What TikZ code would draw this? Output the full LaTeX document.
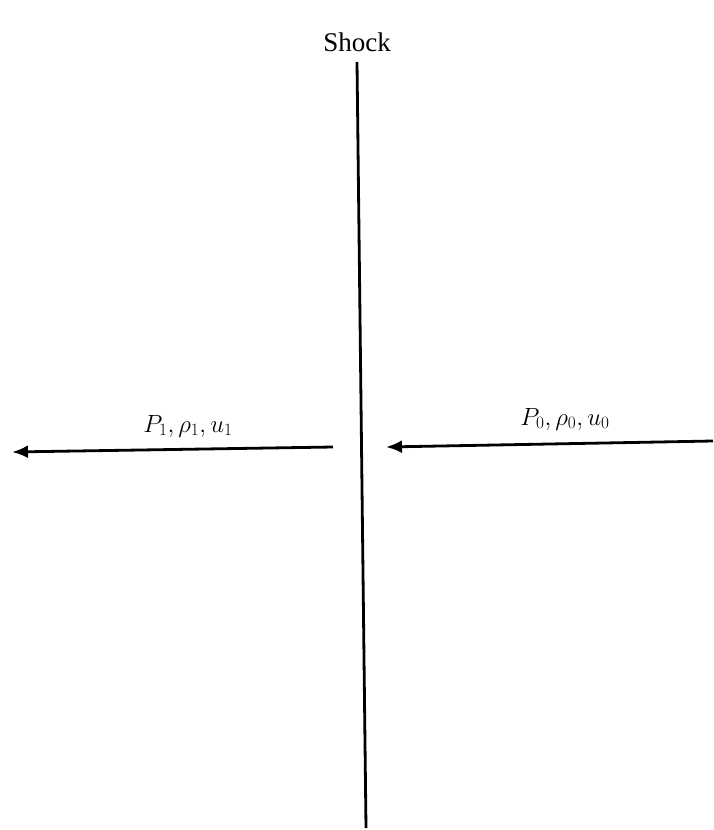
\documentclass[tikz,border=0pt]{standalone}
\usepackage{fontspec}
\setmainfont{Liberation Serif}
\usetikzlibrary{arrows.meta}
\begin{document}
\begin{tikzpicture}[x=1pt,y=-1pt,
  flow/.style={line width=2.8pt,-{Latex[length=16pt,width=13pt]}},
  wall/.style={line width=2.8pt},
  lbl/.style={inner sep=0pt,font=\fontsize{24}{28}\selectfont},
  title/.style={inner sep=0pt,font=\fontsize{27}{32}\selectfont}]
\useasboundingbox (0,0) rectangle (713,830);
\node[title] (shock) at (357,42) {Shock};
\coordinate (stop) at (357,62);
\coordinate (sbot) at (366,828);
\draw[wall] (stop) -- (sbot);
\coordinate (ltail) at (333,447);
\coordinate (ltip) at (12,452);
\draw[flow] (ltail) -- (ltip);
\coordinate (rtail) at (713,441);
\coordinate (rtip) at (386,447);
\draw[flow] (rtail) -- (rtip);
\node[lbl] (l1) at (188,426) {$P_1{,}\,\rho_1{,}\,u_1$};
\node[lbl] (l0) at (565,419) {$P_0{,}\,\rho_0{,}\,u_0$};
\end{tikzpicture}
\end{document}
